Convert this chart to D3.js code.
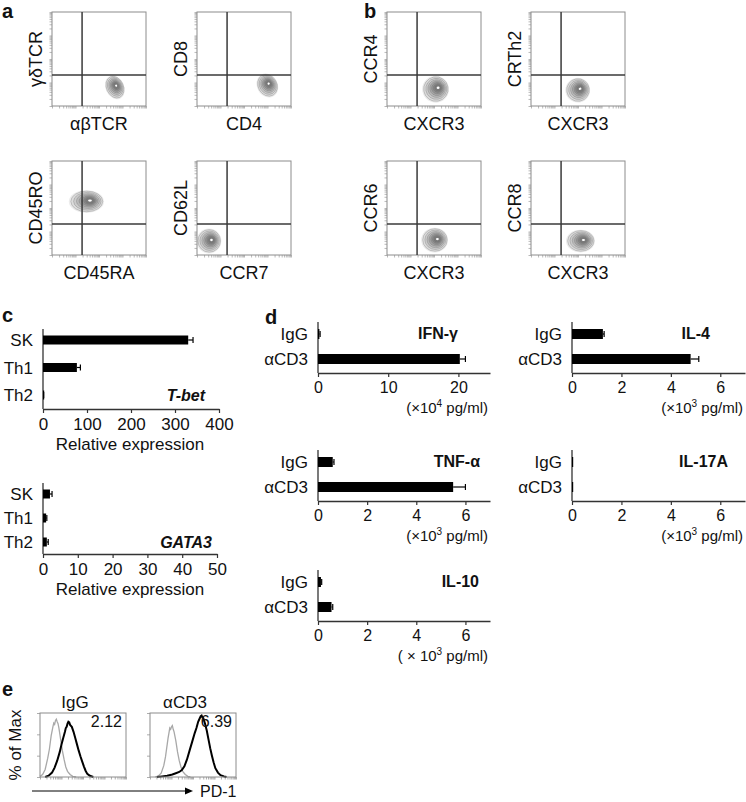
<!DOCTYPE html>
<html>
<head>
<meta charset="utf-8">
<script src="https://cdn.jsdelivr.net/npm/d3@7"></script>
<style>
  body { margin: 0; background: #fff; }
  svg text { font-family: "Liberation Sans", Arial, Helvetica, sans-serif; fill: #111; }
</style>
</head>
<body>
<div id="chart"></div>
<script>
// ---- data ----
// a / b : flow plots, row by row
var flowX = ["αβTCR", "CD4", "CXCR3", "CXCR3", "CD45RA", "CCR7", "CXCR3", "CXCR3"];
var flowY = ["γδTCR", "CD8", "CCR4", "CRTh2", "CD45RO", "CD62L", "CCR6", "CCR8"];
var popX = [67, 75, 52, 50, 37, 13, 51, 53];
var popY = [20, 22, 18, 17, 57, 15, 16, 15];
var popRx = [9, 10, 13, 12, 17, 12, 13, 14];
var popRy = [12, 12, 13, 12, 11, 12, 12, 11];
var popTilt = [-25, -30, -10, -10, 0, 0, 0, 0];
var gateX = 32, gateY = 33;

// c : relative expression
var cellTypes = ["SK", "Th1", "Th2"];
var tbetValues = [330, 77, 1];
var tbetErrors = [11, 8, 0.5];
var gata3Values = [2.0, 0.9, 1.1];
var gata3Errors = [0.6, 0.2, 0.4];
var tbetTicks = [0, 100, 200, 300, 400];
var gata3Ticks = [0, 10, 20, 30, 40, 50];

// d : cytokines
var treatments = ["IgG", "αCD3"];
var cytokines = ["IFN-γ", "IL-4", "TNF-α", "IL-17A", "IL-10"];
var cytoIgG = [0.2, 1.25, 0.6, 0.03, 0.12];
var cytoCD3 = [20.2, 4.8, 5.5, 0.04, 0.55];
var errIgG = [0.1, 0.05, 0.05, 0, 0.03];
var errCD3 = [0.8, 0.33, 0.5, 0, 0.05];
var cytoMax = [24.5, 7, 7, 7, 7];
var cytoTicks = [[0, 10, 20], [0, 2, 4, 6], [0, 2, 4, 6], [0, 2, 4, 6], [0, 2, 4, 6]];
var unitPrefix = ["(×10", "(×10", "(×10", "(×10", "( × 10"];
var unitExp = ["4", "3", "3", "3", "3"];

// e : PD-1 histograms (x in % of range, y in % of max)
var histTitles = ["IgG", "αCD3"];
var histMFI = ["2.12", "6.39"];
var isoIgG = [[0,1],[3,4],[6,12],[9,30],[11,45],[13,66],[15,80],[16,86],[17,84],[18,90],[19,92],[20,88],[21,85],[22,78],[24,60],[26,42],[28,28],[30,16],[32,9],[35,4],[38,1],[42,0]];
var pd1IgG = [[6,0],[10,2],[14,7],[17,15],[20,26],[23,40],[25,52],[27,62],[29,72],[30,78],[31,80],[32,85],[33,88],[34,87],[35,83],[37,80],[39,72],[41,62],[43,52],[45,42],[47,33],[49,25],[51,17],[53,10],[55,5],[58,2],[62,0]];
var isoCD3 = [[6,0],[10,2],[13,6],[16,18],[18,32],[20,52],[21,62],[22,70],[23,78],[24,76],[25,80],[26,82],[27,76],[28,72],[30,58],[32,40],[34,26],[36,16],[38,9],[41,4],[44,1],[47,0]];
var pd1CD3 = [[8,0],[14,1],[20,2],[26,4],[30,6],[34,8],[37,11],[40,17],[43,28],[46,42],[49,56],[52,70],[54,78],[56,88],[58,94],[59,97],[60,98],[61,95],[62,94],[64,85],[66,74],[68,60],[70,46],[72,34],[74,23],[76,14],[79,7],[82,3],[86,1],[89,0]];

// ---- svg ----
var svg = d3.select("#chart").append("svg")
  .attr("width", 746)
  .attr("height", 802);

function panelLetter(t, x, y) {
  svg.append("text").text(t)
    .attr("x", x).attr("y", y)
    .attr("font-size", 20)
    .attr("font-weight", "bold");
}

panelLetter("a", 2, 18);
panelLetter("b", 364, 18);
panelLetter("c", 2, 322);
panelLetter("d", 265, 324);
panelLetter("e", 2, 696);

// log-like minor ticks used on flow axes
function logTicks() {
  var t = [];
  for (var dec = 0; dec < 4; dec++) {
    for (var k = 1; k < 10; k++) t.push(25 * (dec + Math.log10(k)));
  }
  t.push(100);
  return t;
}
var flowTicks = logTicks();

// ---- a / b flow plots ----
var flowCols = [52, 197, 387, 531];
var flowRows = [12, 161];
var flowSize = 94;

function drawBlob(g, sx, sy, i) {
  var px = sx(popX[i]), py = sy(popY[i]);
  var rx = sx(popRx[i]) - sx(0), ry = sy(0) - sy(popRy[i]);
  var levels = [1.1, 1, 0.86, 0.72, 0.59, 0.47, 0.36, 0.26];
  var fills = ["#ececec", "#dcdcdc", "#cbcbcb", "#b9b9b9", "#a6a6a6", "#949494", "#858585", "#7a7a7a"];
  var blob = g.append("g")
    .attr("transform", "translate(" + px + "," + py + ") rotate(" + popTilt[i] + ")");
  blob.selectAll("ellipse.lv")
    .data(levels)
    .enter()
    .append("ellipse")
    .attr("class", "lv")
    .attr("cx", function(d) { return (1 - d) * rx * 0.25; })
    .attr("cy", function(d) { return -(1 - d) * ry * 0.1; })
    .attr("rx", function(d) { return rx * d; })
    .attr("ry", function(d) { return ry * d; })
    .attr("fill", function(d, j) { return fills[j]; })
    .attr("stroke", function(d, j) { return j == 0 ? "none" : "#6f6f6f"; })
    .attr("stroke-opacity", 0.45)
    .attr("stroke-width", 0.7);
  blob.append("ellipse")
    .attr("cx", rx * 0.2).attr("cy", -ry * 0.08)
    .attr("rx", rx * 0.12).attr("ry", ry * 0.1)
    .attr("fill", "#fff");
}

flowX.forEach(function(xl, i) {
  var col = i % 4, row = Math.floor(i / 4);
  var x0 = flowCols[col], y0 = flowRows[row];
  var sx = d3.scaleLinear().domain([0, 100]).range([x0, x0 + flowSize]);
  var sy = d3.scaleLinear().domain([0, 100]).range([y0 + flowSize, y0]);
  var g = svg.append("g");

  var xAx = g.append("g")
    .attr("transform", "translate(0," + (y0 + flowSize) + ")")
    .call(d3.axisBottom(sx).tickValues(flowTicks).tickSize(2.5).tickFormat(""));
  var yAx = g.append("g")
    .attr("transform", "translate(" + x0 + ",0)")
    .call(d3.axisLeft(sy).tickValues(flowTicks).tickSize(2.5).tickFormat(""));
  [xAx, yAx].forEach(function(a) {
    a.select(".domain").remove();
    a.selectAll(".tick line").attr("stroke", "#999").attr("stroke-width", 0.7);
  });

  drawBlob(g, sx, sy, i);

  g.append("rect")
    .attr("x", x0).attr("y", y0)
    .attr("width", flowSize).attr("height", flowSize)
    .attr("fill", "none")
    .attr("stroke", "#8c8c8c")
    .attr("stroke-width", 1);

  g.append("line")
    .attr("x1", sx(gateX)).attr("x2", sx(gateX))
    .attr("y1", y0).attr("y2", y0 + flowSize)
    .attr("stroke", "#3a3a3a").attr("stroke-width", 1.5);
  g.append("line")
    .attr("x1", x0).attr("x2", x0 + flowSize)
    .attr("y1", sy(gateY)).attr("y2", sy(gateY))
    .attr("stroke", "#3a3a3a").attr("stroke-width", 1.5);

  g.append("text").text(xl)
    .attr("x", x0 + flowSize / 2)
    .attr("y", y0 + flowSize + 24)
    .attr("text-anchor", "middle")
    .attr("font-size", 18);
  g.append("text").text(flowY[i])
    .attr("transform", "translate(" + (x0 - 10) + "," + (y0 + flowSize / 2) + ") rotate(-90)")
    .attr("text-anchor", "middle")
    .attr("font-size", 18);
});

// ---- generic horizontal bar block ----
function barBlock(o) {
  var g = svg.append("g");
  var x = d3.scaleLinear().domain([0, o.max]).range([o.x0, o.x1]);
  var y = d3.scalePoint().domain(o.cats).range([o.first - o.step / 2, o.first + o.step * (o.cats.length - 0.5)]).padding(0.5);

  // axes
  var xa = g.append("g")
    .attr("transform", "translate(0," + o.axisY + ")")
    .call(d3.axisBottom(x).tickValues(o.ticks).tickFormat(d3.format("d"))
      .tickSize(4).tickPadding(o.tickPad).tickSizeOuter(0));
  xa.select(".domain").attr("stroke", "#333").attr("stroke-width", 1.3);
  xa.selectAll(".tick line").attr("stroke", "#333").attr("stroke-width", 1.2);
  xa.selectAll(".tick text")
    .attr("font-size", o.tickFont)
    .attr("fill", "#111")
    .attr("font-family", "'Liberation Sans', Arial, sans-serif");

  g.append("line")
    .attr("x1", o.x0).attr("x2", o.x0)
    .attr("y1", o.axisTop).attr("y2", o.axisY)
    .attr("stroke", "#333").attr("stroke-width", 1.3);

  // bars
  g.selectAll("rect.bar")
    .data(o.values)
    .enter()
    .append("rect")
    .attr("class", "bar")
    .attr("x", o.x0)
    .attr("y", function(d, i) { return y(o.cats[i]) - o.barH / 2; })
    .attr("width", function(d) { return Math.max(x(d) - o.x0, 1.2); })
    .attr("height", o.barH)
    .attr("fill", "#000");

  // error bars
  o.values.forEach(function(v, i) {
    if (!o.errors[i]) return;
    var cy = y(o.cats[i]);
    g.append("line")
      .attr("x1", x(v)).attr("x2", x(v + o.errors[i]))
      .attr("y1", cy).attr("y2", cy)
      .attr("stroke", "#000").attr("stroke-width", 1.2);
    g.append("line")
      .attr("x1", x(v + o.errors[i])).attr("x2", x(v + o.errors[i]))
      .attr("y1", cy - 3).attr("y2", cy + 3)
      .attr("stroke", "#000").attr("stroke-width", 1.2);
  });

  // category labels
  g.selectAll("text.cat")
    .data(o.cats)
    .enter()
    .append("text")
    .attr("class", "cat")
    .text(function(d) { return d; })
    .attr("x", o.x0 - 10)
    .attr("y", function(d) { return y(d); })
    .attr("dy", "0.36em")
    .attr("text-anchor", "end")
    .attr("font-size", 17);

  return { g: g, x: x, y: y };
}

// ---- c ----
var cBlocks = [
  { values: tbetValues, errors: tbetErrors, max: 400, ticks: tbetTicks, x1: 219, first: 340, step: 27.5, gap: 14, label: "T-bet", labelX: 205 },
  { values: gata3Values, errors: gata3Errors, max: 50, ticks: gata3Ticks, x1: 217, first: 494, step: 24, gap: 12, label: "GATA3", labelX: 212 }
];
cBlocks.forEach(function(c) {
  var axisY = c.first + 2 * c.step + c.gap;
  var b = barBlock({
    cats: cellTypes, values: c.values, errors: c.errors, max: c.max, ticks: c.ticks,
    x0: 43, x1: c.x1, first: c.first, step: c.step, axisY: axisY, axisTop: c.first - 11,
    barH: 9, tickFont: 17, tickPad: 5
  });
  b.g.append("text").text(c.label)
    .attr("x", c.labelX)
    .attr("y", c.first + 2 * c.step + 6)
    .attr("text-anchor", "end")
    .attr("font-size", 16)
    .attr("font-weight", "bold")
    .attr("font-style", "italic");
  b.g.append("text").text("Relative expression")
    .attr("x", 130)
    .attr("y", axisY + 41)
    .attr("text-anchor", "middle")
    .attr("font-size", 17);
});

// ---- d ----
var dCols = [[318, 490], [572, 745], [318, 490], [572, 745], [318, 490]];
var dAxisY = [373, 373, 501, 501, 621];
var dTitleX = [458, 710, 480, 728, 479];
cytokines.forEach(function(name, i) {
  var axisY = dAxisY[i];
  var step = 25;
  var igY = axisY - step - 14;
  var b = barBlock({
    cats: treatments, values: [cytoIgG[i], cytoCD3[i]], errors: [errIgG[i], errCD3[i]],
    max: cytoMax[i], ticks: cytoTicks[i],
    x0: dCols[i][0], x1: dCols[i][1], first: igY, step: step, axisY: axisY, axisTop: igY - 12,
    barH: 10, tickFont: 16, tickPad: 5
  });
  b.g.append("text").text(name)
    .attr("x", dTitleX[i])
    .attr("y", igY + 5)
    .attr("text-anchor", "end")
    .attr("font-size", 16)
    .attr("font-weight", "bold");
  var u = b.g.append("text")
    .attr("x", dCols[i][1] - 2)
    .attr("y", axisY + 40)
    .attr("text-anchor", "end")
    .attr("font-size", 15);
  u.append("tspan").text(unitPrefix[i]);
  u.append("tspan").text(unitExp[i]).attr("font-size", 10).attr("dy", -6);
  u.append("tspan").text(" pg/ml)").attr("dy", 6);
});

// ---- e ----
var histX0 = [40, 150];
var histW = 86, histTop = 713, histBot = 777;
var histSets = [[isoIgG, pd1IgG], [isoCD3, pd1CD3]];

histTitles.forEach(function(t, i) {
  var x = d3.scaleLinear().domain([0, 100]).range([histX0[i], histX0[i] + histW]);
  var y = d3.scaleLinear().domain([0, 102]).range([histBot, histTop]);
  var g = svg.append("g");

  var xa = g.append("g")
    .attr("transform", "translate(0," + histBot + ")")
    .call(d3.axisBottom(x).tickValues(flowTicks).tickSize(2.5).tickFormat(""));
  var ya = g.append("g")
    .attr("transform", "translate(" + histX0[i] + ",0)")
    .call(d3.axisLeft(y).tickValues([0, 34, 68, 102]).tickSize(3).tickFormat(""));
  [xa, ya].forEach(function(a) {
    a.select(".domain").remove();
    a.selectAll(".tick line").attr("stroke", "#999").attr("stroke-width", 0.8);
  });

  var line = d3.line()
    .x(function(d) { return x(d[0]); })
    .y(function(d) { return y(d[1]); });

  g.append("path").datum(histSets[i][0])
    .attr("d", line)
    .attr("fill", "none")
    .attr("stroke", "#a8a8a8")
    .attr("stroke-width", 1.3);
  g.append("path").datum(histSets[i][1])
    .attr("d", line)
    .attr("fill", "none")
    .attr("stroke", "#000")
    .attr("stroke-width", 2);

  g.append("rect")
    .attr("x", histX0[i]).attr("y", histTop)
    .attr("width", histW).attr("height", histBot - histTop)
    .attr("fill", "none")
    .attr("stroke", "#8c8c8c")
    .attr("stroke-width", 1);

  g.append("text").text(t)
    .attr("x", histX0[i] + histW / 2 - 8)
    .attr("y", histTop - 5)
    .attr("text-anchor", "middle")
    .attr("font-size", 17);
  g.append("text").text(histMFI[i])
    .attr("x", histX0[i] + histW - 4)
    .attr("y", histTop + 14)
    .attr("text-anchor", "end")
    .attr("font-size", 16);
});

svg.append("text").text("% of Max")
  .attr("transform", "translate(21,745) rotate(-90)")
  .attr("text-anchor", "middle")
  .attr("font-size", 17);

svg.append("line")
  .attr("x1", 32).attr("x2", 186)
  .attr("y1", 791).attr("y2", 791)
  .attr("stroke", "#000").attr("stroke-width", 1);
svg.append("path")
  .attr("d", d3.line()([[193, 791], [185, 787.5], [185, 794.5]]) + "Z")
  .attr("fill", "#000");
svg.append("text").text("PD-1")
  .attr("x", 200)
  .attr("y", 797)
  .attr("font-size", 16);
</script>
</body>
</html>
